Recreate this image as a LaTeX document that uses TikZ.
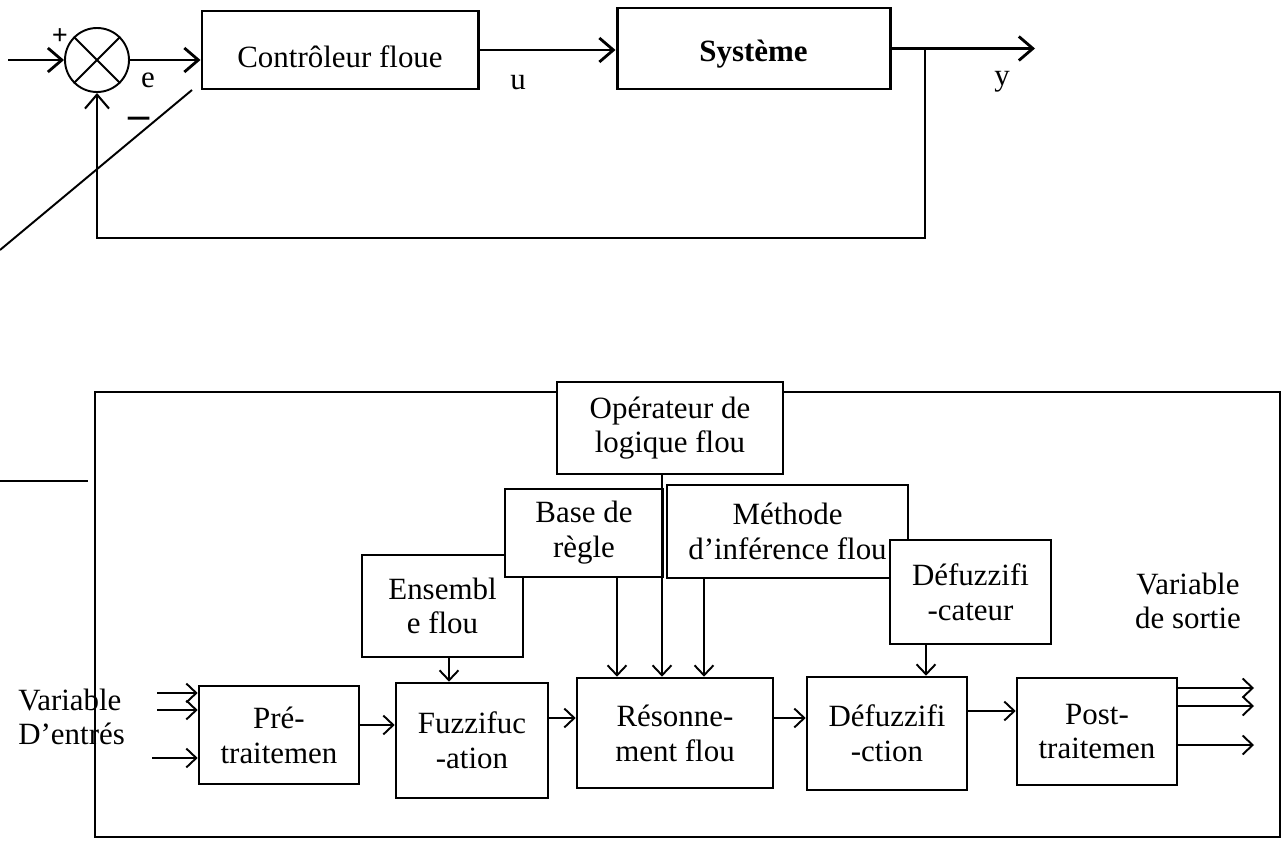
\documentclass[tikz,border=0pt]{standalone}
\usepackage{fontspec}
\setmainfont{Liberation Serif}
\usetikzlibrary{arrows.meta}

\tikzset{
  blk/.style={draw, line width=1.5pt, fill=white, align=center, inner sep=0pt,
    font=\fontsize{17.6}{19.8}\selectfont},
  lbl/.style={inner sep=0pt, font=\fontsize{17.6}{19.8}\selectfont},
  flow/.style={line width=1.1pt, -{Straight Barb[length=2mm,width=3.8mm]}},
  bigflow/.style={line width=1.6pt, -{Straight Barb[length=2.8mm,width=4.8mm]}},
}

\begin{document}
\begin{tikzpicture}
  \useasboundingbox (0,0) rectangle (25.72,16.82);
  % --- closed loop: comparator, controller, plant ---
  \node[draw,circle,line width=1.1pt,minimum size=1.28cm,inner sep=0pt] (sum) at (1.94,15.62) {};
  \draw[line width=1.1pt] (sum.north west) -- (sum.south east) (sum.north east) -- (sum.south west);
  \node[blk,line width=1.7pt,minimum width=5.52cm,minimum height=1.56cm,
    text height=0.72cm,text depth=0pt] (ctrl) at (6.8,15.82) {Contrôleur floue};
  \node[blk,line width=1.7pt,minimum width=5.46cm,minimum height=1.62cm,
    text height=0.52cm,text depth=0pt,
    font=\fontsize{17.6}{19.8}\selectfont\bfseries] (sys) at (15.07,15.85) {Système};
  \coordinate (ref) at (0.16,15.62);
  \coordinate (out) at (20.7,15.85);
  \coordinate (br) at (18.5,15.85);
  \coordinate (fb) at (18.5,12.06);
  \draw[bigflow] (ref) -- (sum.west);
  \draw[bigflow] (sum.east) -- (sum.east -| ctrl.west);
  \draw[bigflow] (ctrl.east) -- (ctrl.east -| sys.west);
  \draw[bigflow] (sys.east) -- (out);
  \draw[bigflow,line width=1.2pt] (br) -- (fb) -| (sum.south);
  \node[lbl,font=\fontsize{16}{16}\selectfont\bfseries] (plus) at (1.2,16.08) {+};
  \node[lbl] (err) at (2.96,15.22) {e};
  \node[lbl,font=\fontsize{24}{24}\selectfont\bfseries,text height=1mm,text depth=0pt] (minus) at (2.78,14.3) {–};
  \node[lbl] (cmd) at (10.36,15.16) {u};
  \node[lbl] (outy) at (20.04,15.18) {y};
  \draw[line width=1.1pt] (0,11.82) -- (3.84,15.02);
  % --- fuzzy controller: knowledge blocks ---
  \draw[line width=1.1pt] (0,7.2) -- (1.76,7.2);
  \draw[line width=1.3pt] (1.9,8.98) rectangle (25.6,0.08);
  \node[blk,minimum width=3.22cm,minimum height=2.04cm] (ens) at (8.85,4.7) {Ensembl\\e flou};
  \node[blk,minimum width=3.16cm,minimum height=1.76cm] (base) at (11.68,6.16) {Base de\\règle};
  \node[blk,minimum width=4.82cm,minimum height=1.86cm] (meth) at (15.75,6.19) {Méthode\\d’inférence flou};
  \node[blk,minimum width=4.52cm,minimum height=1.84cm] (op) at (13.4,8.26) {Opérateur de\\logique flou};
  \node[blk,minimum width=3.22cm,minimum height=2.08cm] (dfzr) at (19.41,4.98) {Défuzzifi\\-cateur};
  % --- fuzzy controller: processing chain ---
  \node[blk,minimum width=3.2cm,minimum height=1.96cm] (pre) at (5.58,2.12) {Pré-\\traitemen};
  \node[blk,minimum width=3.04cm,minimum height=2.3cm] (fuz) at (9.44,2.01) {Fuzzifuc\\-ation};
  \node[blk,minimum width=3.92cm,minimum height=2.2cm] (reso) at (13.5,2.16) {Résonne-\\ment flou};
  \node[blk,minimum width=3.2cm,minimum height=2.26cm] (dfz) at (17.74,2.15) {Défuzzifi\\-ction};
  \node[blk,minimum width=3.2cm,minimum height=2.14cm] (post) at (21.94,2.19) {Post-\\traitemen};
  \draw[flow] (8.98,0 |- ens.south) -- (8.98,0 |- fuz.north);
  \draw[flow] (12.34,0 |- base.south) -- (12.34,0 |- reso.north);
  \draw[flow] (13.24,0 |- op.south) -- (13.24,0 |- reso.north);
  \draw[flow] (14.08,0 |- meth.south) -- (14.08,0 |- reso.north);
  \draw[flow] (18.52,0 |- dfzr.south) -- (18.52,0 |- dfz.north);
  \draw[flow] (0,2.32 -| pre.east) -- (0,2.32 -| fuz.west);
  \draw[flow] (0,2.46 -| fuz.east) -- (0,2.46 -| reso.west);
  \draw[flow] (0,2.46 -| reso.east) -- (0,2.46 -| dfz.west);
  \draw[flow] (0,2.6 -| dfz.east) -- (0,2.6 -| post.west);
  \foreach \x/\y [count=\i] in {3.14/2.96,3.14/2.62,3.04/1.66} {
    \coordinate (vin\i) at (\x,\y);
    \draw[flow] (vin\i) -- (vin\i -| pre.west);
  }
  \foreach \y [count=\i] in {3.06,2.7,1.92} {
    \coordinate (vout\i) at (25.08,\y);
    \draw[flow] (vout\i -| post.east) -- (vout\i);
  }
  \node[lbl,anchor=west,align=left] (insig) at (0.36,2.48) {Variable\\D’entrés};
  \node[lbl,align=center] (outsig) at (23.76,4.8) {Variable\\de sortie};
\end{tikzpicture}
\end{document}
